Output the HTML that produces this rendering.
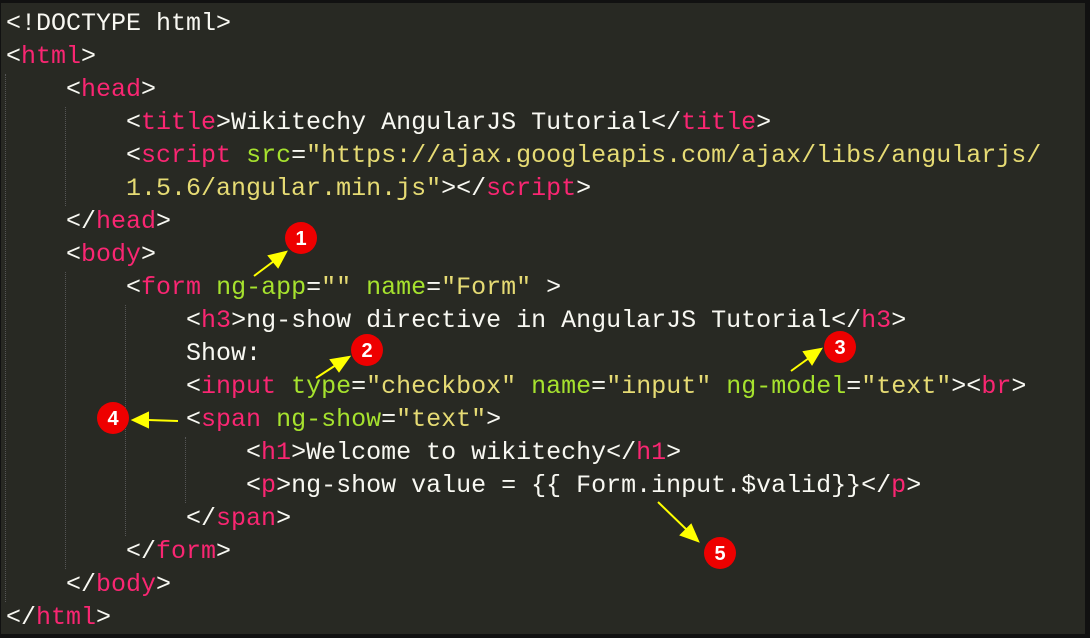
<!DOCTYPE html>
<html><head><meta charset="utf-8"><style>
html,body{margin:0;padding:0;}
body{width:1090px;height:638px;background:#111;position:relative;overflow:hidden;}
#bg{position:absolute;left:1px;top:3px;width:1084px;height:631px;background:#282923;}
.l{position:absolute;left:6px;height:33px;line-height:33px;font-family:"Liberation Mono",monospace;font-size:25px;color:#f8f8f2;white-space:pre;}
.t{color:#f92672}.a{color:#a6e22e}.s{color:#e6db74}
.g{position:absolute;width:0;border-left:1px dotted #555;}
svg{position:absolute;left:0;top:0;}
#c{position:absolute;left:0;top:2px;width:1090px;height:636px;}
</style></head><body>
<div id="bg"></div>
<div id="c">
<div class="g" style="left:5px;top:72px;height:528px"></div>
<div class="g" style="left:65px;top:105px;height:99px"></div>
<div class="g" style="left:65px;top:270px;height:297px"></div>
<div class="g" style="left:125px;top:303px;height:231px"></div>
<div class="g" style="left:185px;top:435px;height:66px"></div>
<div class="l" style="top:5px">&lt;!DOCTYPE html&gt;</div>
<div class="l" style="top:38px">&lt;<span class="t">html</span>&gt;</div>
<div class="l" style="top:71px">    &lt;<span class="t">head</span>&gt;</div>
<div class="l" style="top:104px">        &lt;<span class="t">title</span>&gt;Wikitechy AngularJS Tutorial&lt;/<span class="t">title</span>&gt;</div>
<div class="l" style="top:137px">        &lt;<span class="t">script</span> <span class="a">src</span>=<span class="s">"https://ajax.googleapis.com/ajax/libs/angularjs/</span></div>
<div class="l" style="top:170px">        <span class="s">1.5.6/angular.min.js"</span>&gt;&lt;/<span class="t">script</span>&gt;</div>
<div class="l" style="top:203px">    &lt;/<span class="t">head</span>&gt;</div>
<div class="l" style="top:236px">    &lt;<span class="t">body</span>&gt;</div>
<div class="l" style="top:269px">        &lt;<span class="t">form</span> <span class="a">ng-app</span>=<span class="s">""</span> <span class="a">name</span>=<span class="s">"Form"</span> &gt;</div>
<div class="l" style="top:302px">            &lt;<span class="t">h3</span>&gt;ng-show directive in AngularJS Tutorial&lt;/<span class="t">h3</span>&gt;</div>
<div class="l" style="top:335px">            Show:</div>
<div class="l" style="top:368px">            &lt;<span class="t">input</span> <span class="a">type</span>=<span class="s">"checkbox"</span> <span class="a">name</span>=<span class="s">"input"</span> <span class="a">ng-model</span>=<span class="s">"text"</span>&gt;&lt;<span class="t">br</span>&gt;</div>
<div class="l" style="top:401px">            &lt;<span class="t">span</span> <span class="a">ng-show</span>=<span class="s">"text"</span>&gt;</div>
<div class="l" style="top:434px">                &lt;<span class="t">h1</span>&gt;Welcome to wikitechy&lt;/<span class="t">h1</span>&gt;</div>
<div class="l" style="top:467px">                &lt;<span class="t">p</span>&gt;ng-show value = {{ Form.input.$valid}}&lt;/<span class="t">p</span>&gt;</div>
<div class="l" style="top:500px">            &lt;/<span class="t">span</span>&gt;</div>
<div class="l" style="top:533px">        &lt;/<span class="t">form</span>&gt;</div>
<div class="l" style="top:566px">    &lt;/<span class="t">body</span>&gt;</div>
<div class="l" style="top:599px">&lt;/<span class="t">html</span>&gt;</div>
</div>
<svg width="1090" height="638">
<circle cx="301" cy="238" r="16" fill="#ee0000"/>
<circle cx="367" cy="350" r="16" fill="#ee0000"/>
<circle cx="840" cy="347" r="16" fill="#ee0000"/>
<circle cx="113" cy="418" r="16" fill="#ee0000"/>
<circle cx="720" cy="553" r="16" fill="#ee0000"/>
<g font-family="Liberation Sans,sans-serif" font-weight="bold" font-size="20" fill="#fff" text-anchor="middle">
<text x="301" y="245">1</text><text x="367" y="357">2</text><text x="840" y="354">3</text><text x="113" y="425">4</text><text x="720" y="560">5</text>
</g>
<g fill="#ffff00" stroke="#ffff00" stroke-width="2">
<line x1="254" y1="276" x2="274" y2="261"/><polygon points="286,252 269,256 278,267"/>
<line x1="316" y1="378" x2="336" y2="365"/><polygon points="349,357 331,360 339,371"/>
<line x1="791" y1="371" x2="809" y2="358"/><polygon points="821,349 804,352 812,364"/>
<line x1="178" y1="421" x2="148" y2="420"/><polygon points="133,420 148,413 148,427"/>
<line x1="658" y1="502" x2="688" y2="531"/><polygon points="698,541 681,535 691,525"/>
</g>
</svg>
</body></html>
